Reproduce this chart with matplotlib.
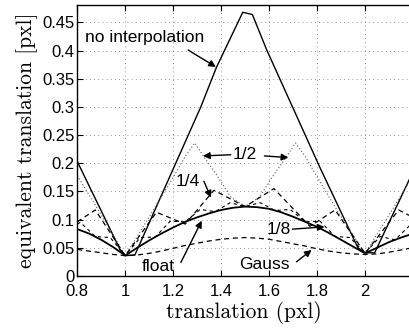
import matplotlib
matplotlib.use("Agg")
import matplotlib.pyplot as plt
from matplotlib.ticker import FuncFormatter

# --- error curves (equivalent translation vs. true translation) -------------
noint_x = [0.80, 0.98, 1.00, 1.04, 1.20, 1.315, 1.38, 1.49, 1.53, 1.59, 1.81, 1.97, 2.00, 2.04, 2.20]
noint_y = [0.203, 0.045, 0.036, 0.037, 0.190, 0.300, 0.370, 0.468, 0.464, 0.401, 0.194, 0.050, 0.041, 0.041, 0.185]

grid_x = [0.80, 0.85, 0.90, 0.95, 1.00, 1.05, 1.10, 1.15, 1.20, 1.25, 1.30, 1.35, 1.40, 1.45,
          1.50, 1.55, 1.60, 1.65, 1.70, 1.75, 1.80, 1.85, 1.90, 1.95, 2.00, 2.05, 2.10, 2.15, 2.20]
float_y = [0.083, 0.075, 0.064, 0.051, 0.036, 0.050, 0.063, 0.075, 0.086, 0.096, 0.104, 0.111, 0.117, 0.121,
           0.123, 0.122, 0.119, 0.113, 0.105, 0.096, 0.087, 0.076, 0.064, 0.052, 0.040, 0.050, 0.060, 0.068, 0.075]
gauss_y = [0.047, 0.044, 0.041, 0.038, 0.036, 0.037, 0.040, 0.044, 0.049, 0.054, 0.058, 0.062, 0.065, 0.067,
           0.068, 0.067, 0.065, 0.061, 0.057, 0.053, 0.048, 0.044, 0.041, 0.039, 0.038, 0.039, 0.042, 0.046, 0.050]

half_x = [0.80, 0.90, 1.00, 1.05, 1.10, 1.15, 1.20, 1.25, 1.29, 1.33, 1.38, 1.44, 1.50,
          1.56, 1.62, 1.67, 1.71, 1.75, 1.80, 1.85, 1.90, 1.95, 2.00, 2.05, 2.10, 2.15, 2.20]
half_y = [0.178, 0.108, 0.036, 0.070, 0.105, 0.140, 0.175, 0.212, 0.236, 0.210, 0.180, 0.140, 0.123,
          0.140, 0.180, 0.210, 0.236, 0.212, 0.176, 0.140, 0.105, 0.072, 0.040, 0.074, 0.108, 0.143, 0.178]

quarter_x = [0.80, 0.875, 1.00, 1.13, 1.25, 1.37, 1.50, 1.62, 1.77, 1.875, 2.00, 2.14, 2.20]
quarter_y = [0.096, 0.117, 0.036, 0.113, 0.092, 0.152, 0.123, 0.155, 0.088, 0.117, 0.040, 0.117, 0.104]

eighth_x = [0.80, 0.8125, 0.875, 0.9375, 1.00, 1.0625, 1.125, 1.1875, 1.25, 1.3125, 1.375, 1.4375,
            1.50, 1.5625, 1.625, 1.6875, 1.75, 1.8125, 1.875, 1.9375, 2.00, 2.0625, 2.125, 2.1875, 2.20]
eighth_y = [0.092, 0.095, 0.070, 0.068, 0.036, 0.068, 0.069, 0.097, 0.096, 0.118, 0.114, 0.130,
            0.123, 0.130, 0.116, 0.118, 0.096, 0.097, 0.070, 0.068, 0.040, 0.070, 0.064, 0.090, 0.088]

x_ticks = [0.8, 1.0, 1.2, 1.4, 1.6, 1.8, 2.0]
y_ticks = [0, 0.05, 0.1, 0.15, 0.2, 0.25, 0.3, 0.35, 0.4, 0.45]

sans = "Liberation Sans"
serif = "cmr10"

fig = plt.figure(figsize=(4.09, 3.30), dpi=100)
ax = fig.add_axes([0.189, 0.164, 0.815, 0.821])

ax.plot(noint_x, noint_y, color="black", lw=1.0)
ax.plot(grid_x, float_y, color="black", lw=1.3)
ax.plot(grid_x, gauss_y, color="black", lw=0.9, ls=(0, (4, 3)))
ax.plot(half_x, half_y, color="0.35", lw=0.8, ls=(0, (1, 2)))
ax.plot(quarter_x, quarter_y, color="black", lw=0.9, ls=(0, (4, 3)))
ax.plot(eighth_x, eighth_y, color="black", lw=0.8, ls=(0, (3, 3)))

ax.set_xlim(0.8, 2.19)
ax.set_ylim(0, 0.481)
ax.set_xticks(x_ticks)
ax.set_yticks(y_ticks)
fmt = FuncFormatter(lambda v, _: f"{v:g}")
ax.xaxis.set_major_formatter(fmt)
ax.yaxis.set_major_formatter(fmt)
ax.tick_params(direction="in", top=True, right=False, length=4, width=0.8,
               labelsize=12)
ax.tick_params(axis="y", pad=2)
ax.tick_params(axis="x", pad=6)
for lab in ax.get_xticklabels() + ax.get_yticklabels():
    lab.set_fontfamily(sans)
ax.grid(True, color="0.45", lw=0.6, ls=(0, (1, 4)))
ax.spines["right"].set_visible(False)
for s in ("left", "bottom", "top"):
    ax.spines[s].set_linewidth(1.0)

ax.set_xlabel("translation (pxl)", family=serif, fontsize=15.5, labelpad=1)
ax.set_ylabel("equivalent translation [pxl]", family=serif, fontsize=15.5, labelpad=3)

arrow = dict(arrowstyle="-|>", color="black", lw=1.0, mutation_scale=10,
             shrinkA=0, shrinkB=0)
txt = dict(family=sans, fontsize=12.5, ha="center", va="center")

ax.text(1.08, 0.424, "no interpolation", **txt)
ax.annotate("", xy=(1.378, 0.371), xytext=(1.262, 0.401), arrowprops=arrow)

ax.text(1.497, 0.215, "1/2", **txt)
ax.annotate("", xy=(1.324, 0.213), xytext=(1.44, 0.215), arrowprops=arrow)
ax.annotate("", xy=(1.68, 0.210), xytext=(1.58, 0.213), arrowprops=arrow)

ax.text(1.262, 0.167, "1/4", **txt)
ax.annotate("", xy=(1.357, 0.139), xytext=(1.328, 0.168), arrowprops=arrow)

ax.text(1.139, 0.017, "float", **txt)
ax.annotate("", xy=(1.319, 0.098), xytext=(1.232, 0.024), arrowprops=arrow)

ax.text(1.639, 0.082, "1/8", **txt)
ax.annotate("", xy=(1.831, 0.087), xytext=(1.697, 0.083), arrowprops=arrow)

ax.text(1.58, 0.020, "Gauss", **txt)
ax.annotate("", xy=(1.777, 0.046), xytext=(1.714, 0.025), arrowprops=arrow)

fig.savefig("out.png", dpi=100)
